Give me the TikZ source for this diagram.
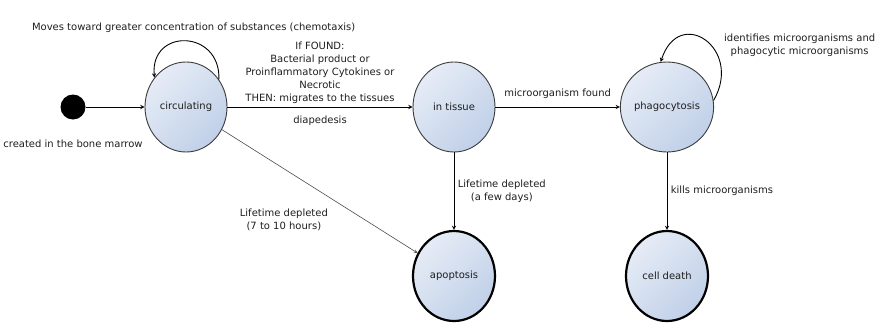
\documentclass[tikz,border=0pt]{standalone}
\usepackage{fontspec}
\setmainfont{DejaVu Sans}
\usepackage{tikz}
\usetikzlibrary{shapes.geometric, arrows}
\definecolor{statelight}{RGB}{230,236,246}
\definecolor{statedark}{RGB}{192,208,232}
\definecolor{statedraw}{RGB}{60,60,60}
\definecolor{textgray}{RGB}{30,30,30}
\tikzstyle{state} = [ellipse, minimum width=82pt, minimum height=90pt, inner sep=0pt, draw=statedraw, line width=0.9pt, top color=statelight, bottom color=statedark, shading angle=45]
\tikzstyle{final} = [state, draw=black, line width=2.2pt]
\tikzstyle{initial} = [circle, fill=black, minimum size=25pt, inner sep=0pt]
\tikzstyle{arrow} = [line width=0.9pt, ->, >=stealth]
\tikzstyle{thinarrow} = [line width=0.6pt, draw=black!70, ->, >=stealth]

\begin{document}
\begin{tikzpicture}[node distance=268pt, font=\fontsize{10}{13}\selectfont, text=textgray]
	\useasboundingbox (0,0) rectangle (884pt,-322pt);

		% Draw the states
		\node (circ) [state] at (186pt,-107pt) {circulating};
		\node (start) [initial, left of=circ, node distance=113pt] {};
		\node (born) [below of=start, node distance=37pt] {created in the bone marrow};
		\node (tissue) [state, right of=circ] {in tissue};
		\node (phago) [state, right of=tissue, node distance=213pt] {phagocytosis};
		\node (apop) [final, below of=tissue, node distance=169pt] {apoptosis};
		\node (death) [final, below of=phago, node distance=169pt] {cell death};

		% Draw the transitions
		\draw [arrow] (start) -- (circ);
		\draw [arrow] (circ.40) .. controls +(88:50pt) and +(95:50pt) .. node[above, xshift=8pt, yshift=5pt] {Moves toward greater concentration of substances (chemotaxis)} (circ.137);
		\draw [arrow] (circ) -- node[above, align=center] {If FOUND:\\ Bacterial product or\\ Proinflammatory Cytokines or\\ Necrotic\\ THEN: migrates to the tissues} node[below, yshift=-5pt] {diapedesis} (tissue);
		\draw [thinarrow] (circ) -- node[pos=0.55, anchor=north east, xshift=2pt, yshift=-8pt, align=center] {Lifetime depleted\\ (7 to 10 hours)} (apop);
		\draw [arrow] (tissue) -- node[above, yshift=5pt] {microorganism found} (phago);
		\draw [arrow] (tissue) -- node[right, align=center] {Lifetime depleted\\ (a few days)} (apop);
		\draw [arrow] (phago.8) .. controls +(60:60pt) and +(72:60pt) .. node[pos=0.35, anchor=west, xshift=4pt, yshift=8pt, align=center] {identifies microorganisms and\\ phagocytic microorganisms} (phago.98);
		\draw [arrow] (phago) -- node[right] {kills microorganisms} (death);

	\end{tikzpicture}
\end{document}
